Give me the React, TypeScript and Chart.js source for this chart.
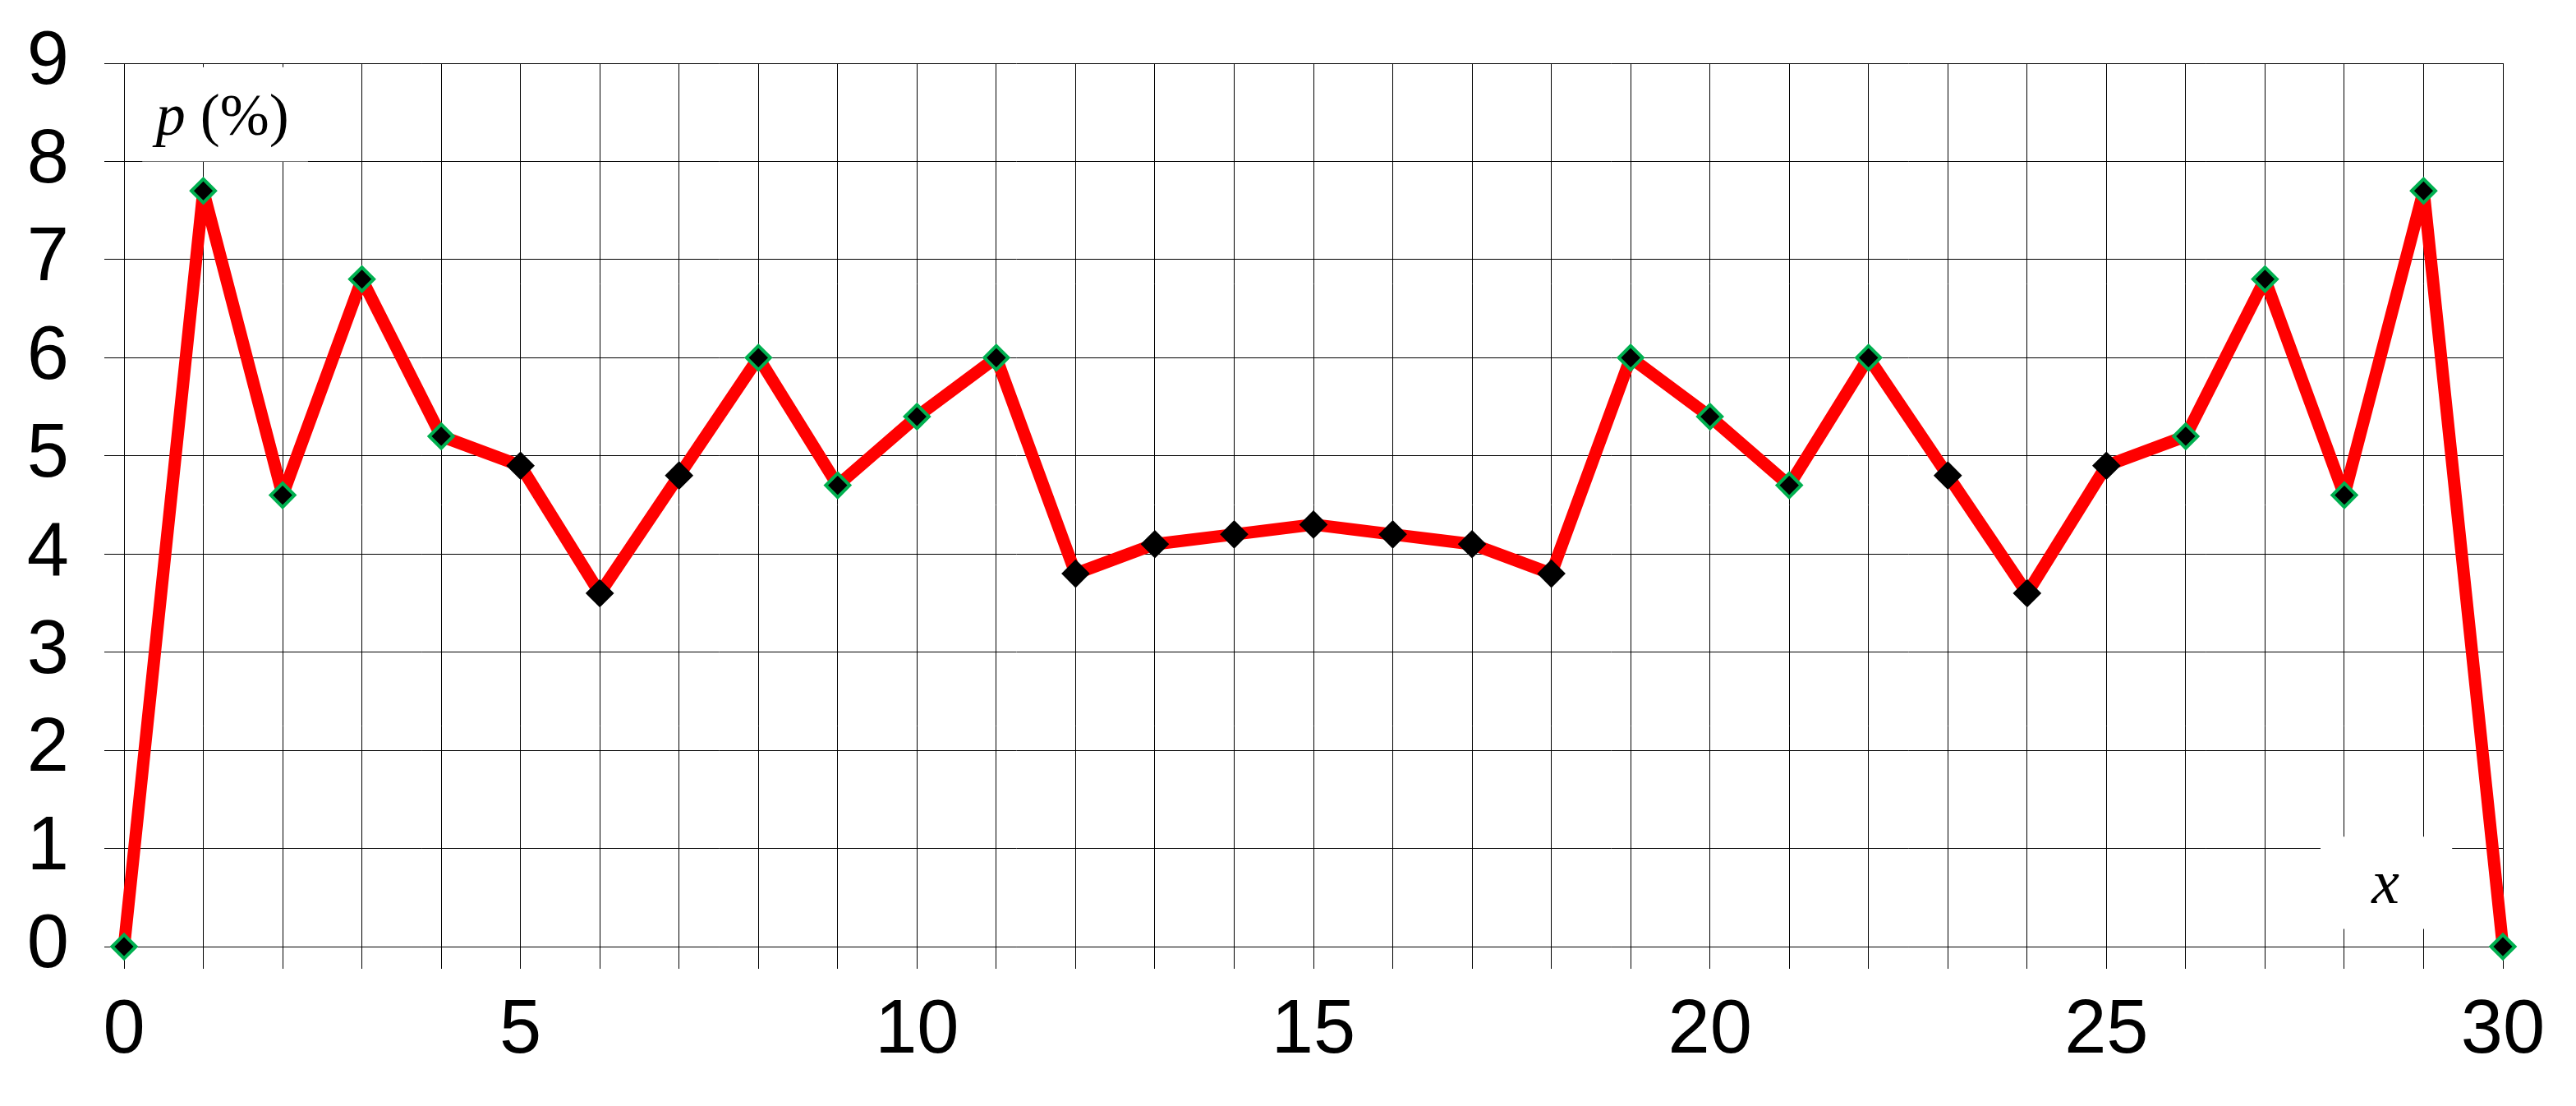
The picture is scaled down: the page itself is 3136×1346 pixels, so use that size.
import React, { useEffect, useRef } from "react";
import { Chart, registerables } from "chart.js";

Chart.register(...registerables);

const xValues = [0, 1, 2, 3, 4, 5, 6, 7, 8, 9, 10, 11, 12, 13, 14, 15, 16, 17, 18, 19, 20, 21, 22, 23, 24, 25, 26, 27, 28, 29, 30];
const pValues = [0, 7.7, 4.6, 6.8, 5.2, 4.9, 3.6, 4.8, 6.0, 4.7, 5.4, 6.0, 3.8, 4.1, 4.2, 4.3, 4.2, 4.1, 3.8, 6.0, 5.4, 4.7, 6.0, 4.8, 3.6, 4.9, 5.2, 6.8, 4.6, 7.7, 0];
// marker edge group per point: "g" = green edge, "k" = black edge
const edgeGroup = ["g", "g", "g", "g", "g", "k", "k", "k", "g", "g", "g", "g", "k", "k", "k", "k", "k", "k", "k", "g", "g", "g", "g", "k", "k", "k", "g", "g", "g", "g", "g"];
const xTickLabels = [0, 5, 10, 15, 20, 25, 30];
const yTickLabels = [0, 1, 2, 3, 4, 5, 6, 7, 8, 9];
const yAxisTitle = { italic: "p", rest: " (%)" };
const xAxisTitle = "x";

const W = 3136;
const H = 1346;

export default function App() {
  const ref = useRef<HTMLCanvasElement | null>(null);

  useEffect(() => {
    const canvas = ref.current;
    if (!canvas) return;

    const labelPlugin = {
      id: "boxedLabels",
      beforeDatasetsDraw(chart: any) {
        const ctx = chart.ctx;
        const xs = chart.scales.x;
        const ys = chart.scales.y;
        const box = (x0: number, x1: number, y0: number, y1: number) => {
          const px0 = xs.getPixelForValue(x0);
          const px1 = xs.getPixelForValue(x1);
          const py0 = ys.getPixelForValue(y0);
          const py1 = ys.getPixelForValue(y1);
          ctx.save();
          ctx.fillStyle = "#ffffff";
          ctx.fillRect(px0, py0, px1 - px0, py1 - py0);
          ctx.restore();
        };
        box(0.23, 2.32, 8.96, 8.0);
        box(27.7, 29.36, 1.12, 0.18);

        ctx.save();
        ctx.fillStyle = "#000000";
        ctx.textBaseline = "alphabetic";
        const italicFont = "italic 72px 'Liberation Serif', 'Times New Roman', serif";
        const normalFont = "72px 'Liberation Serif', 'Times New Roman', serif";
        ctx.font = italicFont;
        const w1 = ctx.measureText(yAxisTitle.italic).width;
        ctx.font = normalFont;
        const w2 = ctx.measureText(yAxisTitle.rest).width;
        const cx = xs.getPixelForValue(1.24);
        const by = ys.getPixelForValue(8.27);
        const startX = cx - (w1 + w2) / 2;
        ctx.textAlign = "left";
        ctx.font = italicFont;
        ctx.fillText(yAxisTitle.italic, startX, by);
        ctx.font = normalFont;
        ctx.fillText(yAxisTitle.rest, startX + w1, by);
        ctx.font = "italic 76px 'Liberation Serif', 'Times New Roman', serif";
        ctx.textAlign = "center";
        ctx.fillText(xAxisTitle, xs.getPixelForValue(28.52), ys.getPixelForValue(0.44));
        ctx.restore();
      },
    };

    const chart = new Chart(canvas, {
      type: "line",
      data: {
        datasets: [
          {
            data: xValues.map((x, i) => ({ x, y: pValues[i] })),
            borderColor: "#ff0000",
            borderWidth: 15,
            borderJoinStyle: "bevel",
            borderCapStyle: "butt",
            pointStyle: "rectRot",
            pointRadius: 14.5,
            pointBackgroundColor: "#000000",
            pointBorderColor: edgeGroup.map((g) => (g === "g" ? "#00b050" : "#000000")),
            pointBorderWidth: 4,
            tension: 0,
            clip: false as any,
          },
        ],
      },
      options: {
        animation: false,
        responsive: false,
        devicePixelRatio: 1,
        layout: { padding: { left: 0, right: 89, top: 77, bottom: 0 } },
        plugins: { legend: { display: false }, tooltip: { enabled: false } },
        scales: {
          x: {
            type: "linear",
            min: 0,
            max: 30,
            afterFit: (s: any) => {
              s.height = H - 1152;
              s.paddingLeft = 0;
              s.paddingRight = 0;
            },
            afterBuildTicks: (s: any) => {
              s.ticks = xValues.map((v) => ({ value: v }));
            },
            ticks: {
              autoSkip: false,
              maxRotation: 0,
              minRotation: 0,
              color: "#000000",
              padding: 21,
              font: { family: "'Liberation Sans', Arial, sans-serif", size: 92 },
              callback: (v: any) => (xTickLabels.includes(Number(v)) ? String(v) : ""),
            },
            grid: { color: "#000000", lineWidth: 1, tickLength: 27, drawTicks: true },
            border: { color: "#000000", width: 1 },
          },
          y: {
            type: "linear",
            min: 0,
            max: 9,
            afterFit: (s: any) => {
              s.width = 151;
              s.paddingTop = 0;
              s.paddingBottom = 0;
            },
            afterBuildTicks: (s: any) => {
              s.ticks = yTickLabels.map((v) => ({ value: v }));
            },
            ticks: {
              color: "#000000",
              padding: 43,
              font: { family: "'Liberation Sans', Arial, sans-serif", size: 92 },
              callback: (v: any) => String(v),
            },
            grid: { color: "#000000", lineWidth: 1, tickLength: 24, drawTicks: true },
            border: { color: "#000000", width: 1 },
          },
        },
      },
      plugins: [labelPlugin],
    });

    return () => chart.destroy();
  }, []);

  return (
    <div style={{ position: "fixed", left: 0, top: 0, width: W, height: H, background: "#ffffff" }}>
      <canvas ref={ref} width={W} height={H} style={{ width: W, height: H, display: "block" }} />
    </div>
  );
}
